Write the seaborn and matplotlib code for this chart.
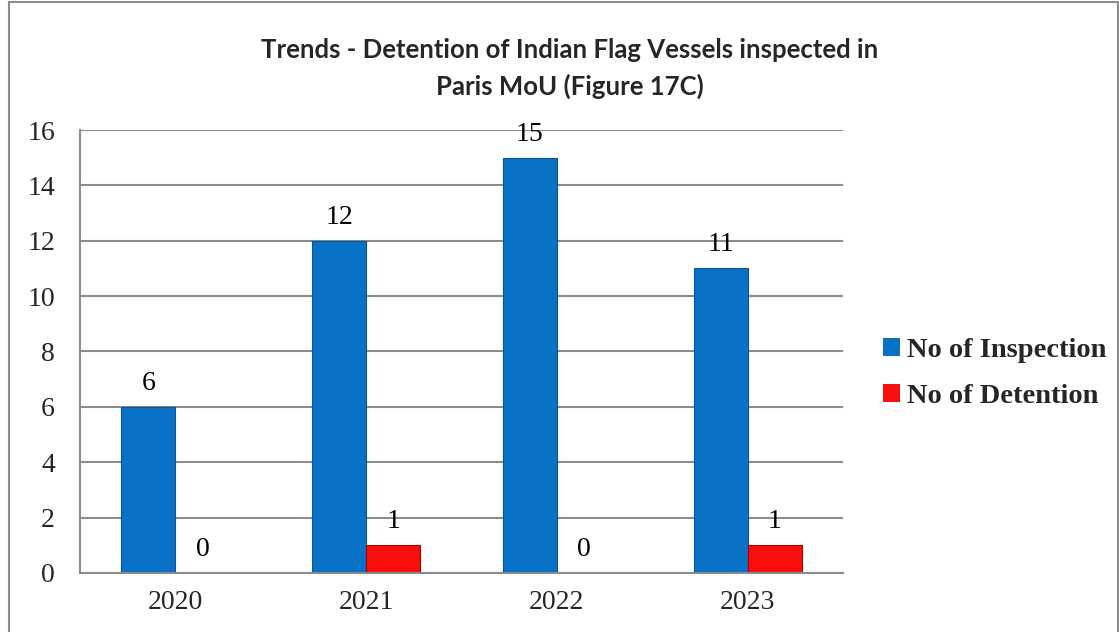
import matplotlib.pyplot as plt
import matplotlib.patches as mpatches
import pandas as pd
import seaborn as sns

years = ["2020", "2021", "2022", "2023"]
inspections = [6, 12, 15, 11]
detentions = [0, 1, 0, 1]
series_names = ["No of Inspection", "No of Detention"]
title_text = "Trends - Detention of Indian Flag Vessels inspected in\nParis MoU (Figure 17C)"


def build_frame() -> pd.DataFrame:
  rows = []
  for name, values in zip(series_names, [inspections, detentions]):
    for y, v in zip(years, values):
      rows.append({"Year": y, "Series": name, "Count": v})
  return pd.DataFrame(rows)


def main():
  df = build_frame()
  sns.set_style("white")
  plt.rcParams["font.family"] = ["Liberation Serif", "DejaVu Serif"]

  fig = plt.figure(figsize=(11.19, 6.32), dpi=100)
  ax = fig.add_axes([0.0715, 0.0934, 0.6819, 0.7009])

  # outer chart border
  fig.patches.append(mpatches.Rectangle(
      (0.008, -0.01), 0.991, 1.007, transform=fig.transFigure,
      fill=False, edgecolor="#8c8c8c", linewidth=1.5))

  sns.barplot(
      data=df, x="Year", y="Count", hue="Series", order=years,
      hue_order=series_names, palette=["#0a72c6", "#f70f0f"], saturation=1,
      width=0.566, ax=ax, linewidth=0, legend=True
  )
  for patch, ec in zip(ax.patches, ["#0a5494"] * 4 + ["#a80000"] * 4):
    patch.set_edgecolor(ec)
    patch.set_linewidth(0.8)

  # value labels
  for container in ax.containers:
    ax.bar_label(container, padding=8, fontsize=20, color="black")

  ax.set_ylim(0, 16)
  ax.set_yticks(range(0, 17, 2))
  ax.set_xlabel("")
  ax.set_ylabel("")
  ax.grid(True, axis="y", color="#8c8c8c", linewidth=1.5)
  ax.set_axisbelow(True)
  for side in ["top", "right"]:
    ax.spines[side].set_visible(False)
  for side in ["left", "bottom"]:
    ax.spines[side].set_color("#8c8c8c")
    ax.spines[side].set_linewidth(1.5)
  ax.tick_params(axis="y", length=0, pad=18, labelsize=20)
  ax.tick_params(axis="x", length=0, pad=12, labelsize=20)

  handles, labels = ax.get_legend_handles_labels()
  ax.legend(
      handles, labels, loc="center left", bbox_to_anchor=(0.766, 0.409),
      bbox_transform=fig.transFigure, frameon=False, handlelength=0.6,
      handleheight=0.6, handletextpad=0.25, labelspacing=0.75,
      prop={"family": ["Liberation Serif"], "weight": "bold", "size": 20.5}
  )

  fig.text(0.509, 0.891, title_text, ha="center", va="center", fontsize=18.5,
           fontweight="bold", family=["Lato", "DejaVu Sans"], linespacing=1.55)

  fig.savefig("out.png", dpi=100)
  plt.close(fig)


if __name__ == "__main__":
  main()
